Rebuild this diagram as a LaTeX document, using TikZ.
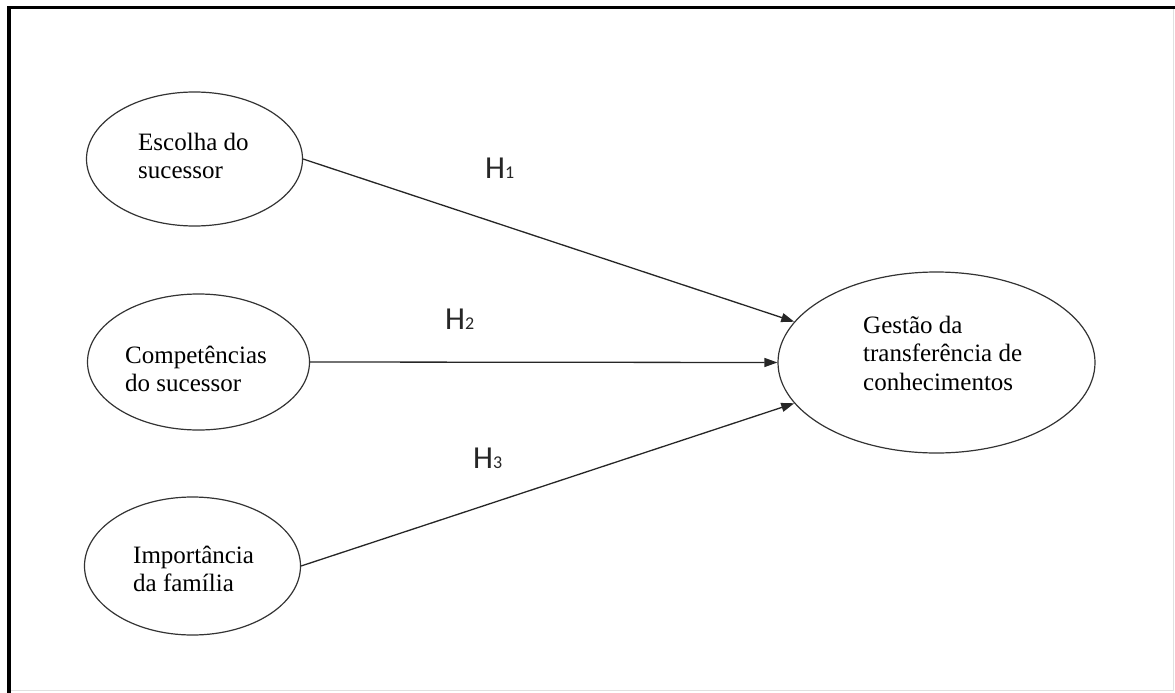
\documentclass[tikz,border=0pt]{standalone}
\usepackage{fontspec}
\setmainfont{Liberation Serif}
\newfontfamily\hfont{Carlito}
\usetikzlibrary{arrows.meta,shapes.geometric}
\tikzset{
  construct/.style={ellipse,draw=black!80,line width=1.2pt,inner sep=0pt},
  lbl/.style={anchor=base west,inner sep=0pt,font=\fontsize{25}{28.8}\selectfont},
  hyp/.style={anchor=base west,inner sep=0pt,font=\hfont\fontsize{32}{32}\selectfont,text=black!85},
  arr/.style={draw=black!85,line width=1.3pt,-{Triangle[length=13pt,width=9pt]}}
}
\begin{document}
\begin{tikzpicture}[x=1pt,y=-1pt]
\useasboundingbox (0,0) rectangle (1175,693);
% frame
\draw[black!12,line width=0.8pt] (1173,9) -- (1173,690.5) -- (10,690.5);
\draw[line width=3.5pt] (9,693) -- (9,7.5) -- (1175,7.5);
% ellipses
\node[construct,minimum width=216pt,minimum height=134pt] (e1) at (194.5,159) {};
\node[construct,minimum width=222pt,minimum height=136pt] (e2) at (198.5,362) {};
\node[construct,minimum width=216pt,minimum height=138pt] (e3) at (192.5,566) {};
\node[construct,minimum width=317pt,minimum height=181pt] (e4) at (936.5,362.5) {};
% texts
\node[lbl] (t1) at (138,150) {\vtop{\hbox{Escolha do}\hbox{sucessor}}};
\node[lbl] (t2) at (125,363) {\vtop{\hbox{Competências}\hbox{do sucessor}}};
\node[lbl] (t3) at (133,563) {\vtop{\hbox{Importância}\hbox{da família}}};
\node[lbl] (t4) at (863,333) {\vtop{\hbox{Gestão da}\hbox{transferência de}\hbox{conhecimentos}}};
% connectors
\draw[arr] (e1.east) -- (e4.164);
\draw[arr] (e2.east) -- (e4.west);
\draw[arr] (e3.east) -- (e4.196);
% hypothesis labels
\node[hyp] (h1) at (485,178) {H{\fontsize{18}{18}\selectfont 1}};
\node[hyp] (h2) at (445,329) {H{\fontsize{18}{18}\selectfont 2}};
\node[hyp] (h3) at (473,468) {H{\fontsize{18}{18}\selectfont 3}};
\end{tikzpicture}
\end{document}
